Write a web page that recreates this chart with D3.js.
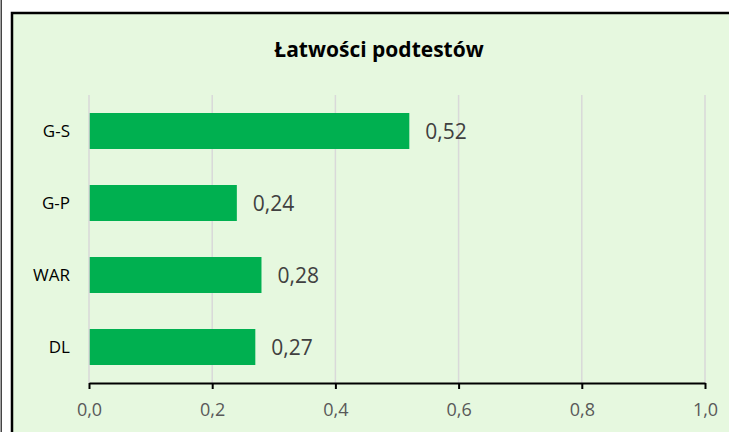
<!DOCTYPE html>
<html><head><meta charset="utf-8">
<script src="https://cdn.jsdelivr.net/npm/d3@7"></script>
<style>body{margin:0;background:#fff;} svg{display:block;}</style>
</head><body>
<script>
const categories = ["G-S", "G-P", "WAR", "DL"];
const values = [0.52, 0.24, 0.28, 0.27];
const tickValues = [0, 0.2, 0.4, 0.6, 0.8, 1.0];
const title = "Łatwości podtestów";

const W = 729, H = 432;
const svg = d3.select("body").append("svg").attr("width", W).attr("height", H);
const font = "'Open Sans', 'Liberation Sans', sans-serif";

// outer frame lines
svg.append("rect").attr("x", 0.5).attr("y", -5).attr("width", 1.5).attr("height", H + 10).attr("fill", "#444");
svg.append("rect").attr("x", 12).attr("y", 13).attr("width", W + 10).attr("height", H + 10)
  .attr("fill", "#e6f8df").attr("stroke", "#000").attr("stroke-width", 2.5);

const x = d3.scaleLinear().domain([0, 1]).range([89, 705]);
const y = d3.scaleBand().domain(categories).range([95, 383]).paddingInner(0.5).paddingOuter(0.25);

// gridlines
svg.append("g").selectAll("line").data(tickValues.slice(1)).join("line")
  .attr("x1", d => x(d)).attr("x2", d => x(d)).attr("y1", 95).attr("y2", 383)
  .attr("stroke", "#d9d9d9").attr("stroke-width", 1.5);

// bars
svg.append("g").selectAll("rect").data(categories).join("rect")
  .attr("x", x(0)).attr("y", d => y(d)).attr("height", y.bandwidth())
  .attr("width", (d, i) => x(values[i]) - x(0)).attr("fill", "#00b050");

// left axis line (light)
svg.append("line").attr("x1", x(0)).attr("x2", x(0)).attr("y1", 95).attr("y2", 383)
  .attr("stroke", "#d9d9d9").attr("stroke-width", 1.5);

// x axis
const xAxis = d3.axisBottom(x).tickValues(tickValues).tickSize(6).tickSizeOuter(0)
  .tickFormat(d => d3.format(".1f")(d).replace(".", ","));
const gx = svg.append("g").attr("transform", "translate(0,383)").call(xAxis);
gx.attr("font-size", null).attr("font-family", null);
gx.select(".domain").attr("stroke", "#000").attr("stroke-width", 2);
gx.selectAll(".tick line").attr("stroke", "#000").attr("stroke-width", 2);
gx.selectAll(".tick text").attr("fill", "#595959").style("font-size", "18px").style("font-family", font)
  .attr("y", 27).attr("dy", "0.35em");

// category labels
svg.append("g").selectAll("text").data(categories).join("text")
  .attr("x", 70).attr("y", d => y(d) + y.bandwidth() / 2).attr("dy", "0.35em")
  .attr("text-anchor", "end").style("font-size", "17px").style("font-family", font).attr("fill", "#000")
  .text(d => d);

// value labels
svg.append("g").selectAll("text").data(categories).join("text")
  .attr("x", (d, i) => x(values[i]) + 16).attr("y", d => y(d) + y.bandwidth() / 2).attr("dy", "0.4em")
  .style("font-size", "21px").style("font-family", font).attr("fill", "#404040")
  .text((d, i) => d3.format(".2f")(values[i]).replace(".", ","));

// title
svg.append("text").attr("x", 379).attr("y", 57).attr("text-anchor", "middle")
  .style("font-size", "21px").attr("font-weight", "bold").style("font-family", font).attr("fill", "#000")
  .text(title);
</script>
</body></html>
